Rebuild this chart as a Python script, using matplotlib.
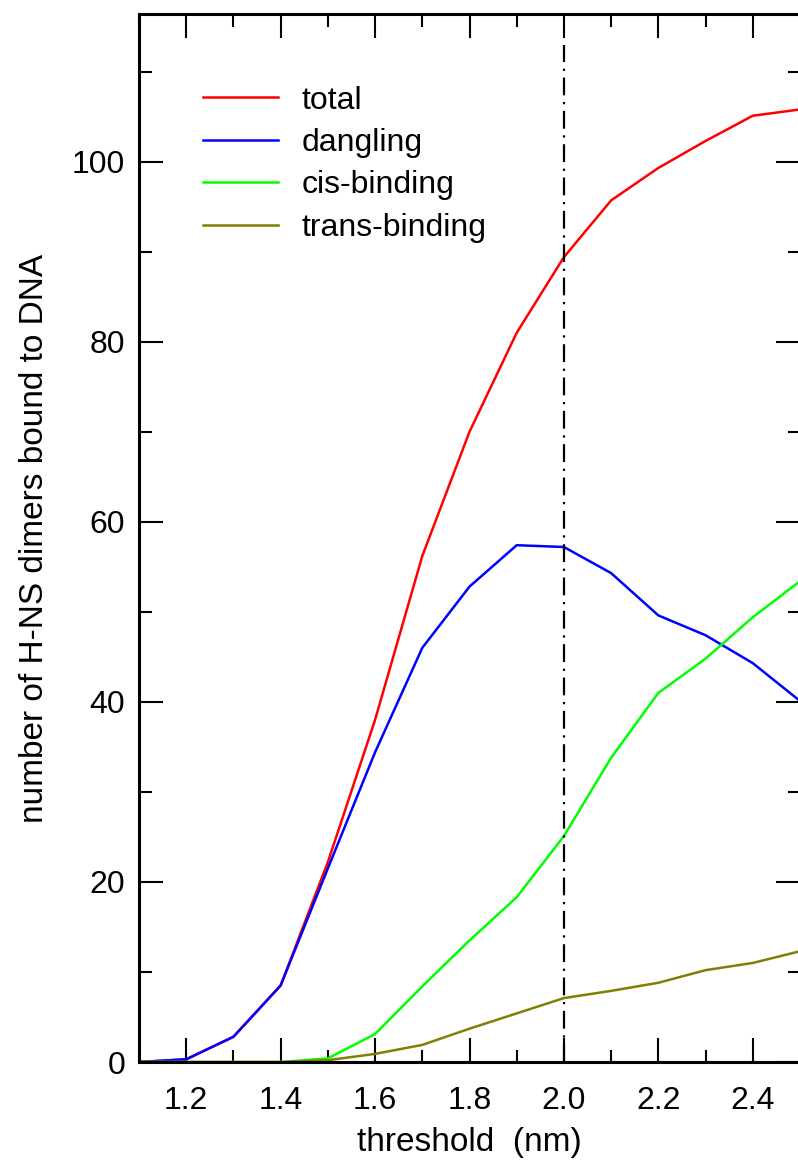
import numpy as np
import matplotlib.pyplot as plt
from matplotlib.ticker import MultipleLocator

plt.rcParams['font.family'] = ['Liberation Sans', 'DejaVu Sans']

# limiar (nm) e numero de dimeros
threshold = [1.1, 1.2, 1.3, 1.4, 1.5, 1.6, 1.7, 1.8, 1.9, 2.0, 2.1, 2.2, 2.3, 2.4, 2.5]
total = [0, 0.3, 2.8, 8.5, 22.2, 38.0, 56.2, 70.0, 81.0, 89.4, 95.7, 99.3, 102.3, 105.1, 105.8]
dangling = [0, 0.3, 2.8, 8.5, 21.5, 34.4, 46.0, 52.8, 57.4, 57.2, 54.3, 49.6, 47.4, 44.3, 40.1]
cis = [0, 0, 0, 0, 0.4, 3.1, 8.4, 13.5, 18.3, 25.1, 33.8, 41.0, 44.8, 49.4, 53.4]
trans = [0, 0, 0, 0, 0.2, 0.9, 1.9, 3.7, 5.4, 7.1, 7.9, 8.8, 10.2, 11.0, 12.3]

fig = plt.figure(figsize=(7.98, 11.68), dpi=100)
ax = fig.add_axes([139/798, 1 - 1062/1168, 661/798, 1048/1168])

ax.plot(threshold, total, color='#ff0000', lw=1.8, label='total')
ax.plot(threshold, dangling, color='#0000ff', lw=1.8, label='dangling')
ax.plot(threshold, cis, color='#00ff00', lw=1.8, label='cis-binding')
ax.plot(threshold, trans, color='#808000', lw=1.8, label='trans-binding')

ax.axvline(2.0, ymin=0, ymax=113/116.4, color='black', lw=1.6, ls=(0, (8, 3, 1, 3)))

ax.set_xlim(1.1, 2.5)
ax.set_ylim(0, 116.4)
ax.xaxis.set_minor_locator(MultipleLocator(0.1))
ax.yaxis.set_major_locator(MultipleLocator(20))
ax.yaxis.set_minor_locator(MultipleLocator(10))
ax.set_xticks([1.2, 1.4, 1.6, 1.8, 2.0, 2.2, 2.4])
ax.set_xticklabels(['1.2', '1.4', '1.6', '1.8', '2.0', '2.2', '2.4'])

ax.tick_params(which='both', direction='in', top=True, right=True, width=1.5, labelsize=23)
ax.tick_params(which='major', length=17, pad=10)
ax.tick_params(axis='x', which='major', pad=17)
ax.tick_params(which='minor', length=9)
for s in ax.spines.values():
    s.set_linewidth(2.2)

ax.set_xlabel('threshold  (nm)', fontsize=24, labelpad=8)
ax.set_ylabel('number of H-NS dimers bound to DNA', fontsize=24, labelpad=16)

ax.legend(loc='upper left', bbox_to_anchor=(0.073, 0.947), frameon=False, fontsize=23,
          handlelength=2.35, handletextpad=0.72, labelspacing=0.39, borderpad=0)

fig.savefig('out.png', dpi=100)
